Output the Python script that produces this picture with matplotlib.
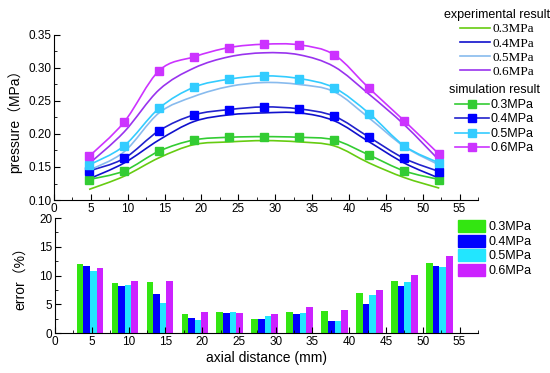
import matplotlib.pyplot as plt
import numpy as np
from matplotlib.path import Path
from matplotlib.patches import PathPatch, Patch
from matplotlib.lines import Line2D
from matplotlib.ticker import MultipleLocator

plt.rcParams['font.family'] = ['Liberation Sans', 'Noto Sans CJK SC', 'DejaVu Sans']

# axial positions (mm)
x = [4.75, 9.5, 14.25, 19, 23.75, 28.5, 33.25, 38, 42.75, 47.5, 52.25]
labels = ['0.3MPa', '0.4MPa', '0.5MPa', '0.6MPa']

# experimental result (MPa)
exp_03 = [0.116, 0.136, 0.164, 0.184, 0.188, 0.190, 0.188, 0.182, 0.156, 0.134, 0.118]
exp_04 = [0.132, 0.156, 0.191, 0.219, 0.229, 0.232, 0.232, 0.220, 0.188, 0.156, 0.133]
exp_05 = [0.145, 0.173, 0.232, 0.257, 0.272, 0.278, 0.275, 0.264, 0.224, 0.181, 0.153]
exp_06 = [0.155, 0.203, 0.267, 0.300, 0.317, 0.323, 0.320, 0.302, 0.260, 0.214, 0.160]

# simulation result (MPa)
sim_03 = [0.131, 0.144, 0.174, 0.191, 0.195, 0.196, 0.195, 0.191, 0.168, 0.144, 0.131]
sim_04 = [0.144, 0.163, 0.205, 0.229, 0.237, 0.241, 0.238, 0.227, 0.195, 0.163, 0.143]
sim_05 = [0.153, 0.182, 0.239, 0.271, 0.283, 0.288, 0.284, 0.270, 0.231, 0.182, 0.156]
sim_06 = [0.166, 0.218, 0.296, 0.317, 0.331, 0.336, 0.335, 0.320, 0.269, 0.220, 0.169]

# error (%)
err_03 = [11.95, 8.7, 8.9, 3.3, 3.6, 2.45, 3.7, 3.8, 7.0, 9.0, 12.2]
err_04 = [11.65, 8.2, 6.8, 2.6, 3.5, 2.45, 3.3, 2.05, 5.1, 8.1, 11.7]
err_05 = [10.7, 8.3, 5.25, 2.2, 3.7, 2.9, 3.55, 2.15, 6.6, 8.8, 11.4]
err_06 = [11.3, 9.0, 9.1, 3.7, 3.5, 3.3, 4.5, 4.0, 7.5, 10.1, 13.4]

exp_colors = ['#66cc11', '#1010cc', '#88bbee', '#9933ee']
sim_colors = ['#33cc33', '#0000ff', '#33ccff', '#cc33ff']
bar_colors = ['#33e611', '#0000ff', '#22e6ff', '#cc22ff']


def smooth(ax, xs, ys, color, lw=1.2):
    # Catmull-Rom curve through the points, drawn as a bezier path
    pts = np.column_stack([xs, ys])
    verts = [pts[0]]
    codes = [Path.MOVETO]
    for i in range(len(pts) - 1):
        p0 = pts[max(i - 1, 0)]
        p1 = pts[i]
        p2 = pts[i + 1]
        p3 = pts[min(i + 2, len(pts) - 1)]
        verts += [p1 + (p2 - p0) / 6, p2 - (p3 - p1) / 6, p2]
        codes += [Path.CURVE4] * 3
    ax.add_patch(PathPatch(Path(verts, codes), fill=False, edgecolor=color, lw=lw))


fig = plt.figure(figsize=(5.5, 3.73), dpi=100)
ax1 = fig.add_axes([0.0982, 0.4638, 0.7709, 0.4424])
ax2 = fig.add_axes([0.1, 0.1072, 0.769, 0.3083])

exp_all = [exp_03, exp_04, exp_05, exp_06]
sim_all = [sim_03, sim_04, sim_05, sim_06]
for i in range(4):
    smooth(ax1, x, exp_all[i], exp_colors[i])
    smooth(ax1, x, sim_all[i], sim_colors[i] if i != 1 else '#2222cc')
    ax1.plot(x, sim_all[i], 's', color=sim_colors[i], ms=5.5, zorder=3)

ax1.set_xlim(0, 57.5)
ax1.set_ylim(0.10, 0.35)
ax1.set_ylabel('pressure（MPa）', fontsize=10, labelpad=4)

err_all = [err_03, err_04, err_05, err_06]
w = 0.9
xa = np.array(x)
for i in range(4):
    ax2.bar(xa + (i - 1.5) * w, err_all[i], width=w, color=bar_colors[i], lw=0)

ax2.set_xlim(0, 57.5)
ax2.set_ylim(0, 20)
ax2.set_ylabel('error（%）', fontsize=10, labelpad=8)
ax2.set_xlabel('axial distance (mm)', fontsize=10, labelpad=2)

for ax, ymaj, ymin in [(ax1, 0.05, 0.025), (ax2, 5, 2.5)]:
    ax.spines['top'].set_visible(False)
    ax.spines['right'].set_visible(False)
    ax.xaxis.set_major_locator(MultipleLocator(5))
    ax.xaxis.set_minor_locator(MultipleLocator(2.5))
    ax.yaxis.set_major_locator(MultipleLocator(ymaj))
    ax.yaxis.set_minor_locator(MultipleLocator(ymin))
    ax.tick_params(which='both', direction='in', labelsize=8.5, pad=2)
    ax.tick_params(which='major', length=4)
    ax.tick_params(which='minor', length=2)
ax1.yaxis.set_major_formatter(plt.FormatStrFormatter('%.2f'))

# legends
exp_handles = [Line2D([], [], color=c, lw=1.2) for c in exp_colors]
leg1 = fig.legend(exp_handles, labels, title='experimental result', loc='upper left',
                  bbox_to_anchor=(0.79, 1.0), frameon=False, fontsize=9.5, title_fontsize=9,
                  handlelength=2.3, handletextpad=0.15, labelspacing=0.15, borderpad=0.2)
for t in leg1.get_texts():
    t.set_fontfamily('Liberation Serif')

sim_handles = [Line2D([], [], color=sim_colors[i] if i != 1 else '#2222cc', lw=1.2,
                      marker='s', ms=5.5, mfc=sim_colors[i], mec=sim_colors[i])
               for i in range(4)]
leg2 = fig.legend(sim_handles, labels, title='simulation result', loc='upper left',
                  bbox_to_anchor=(0.80, 0.797), frameon=False, fontsize=9, title_fontsize=9,
                  handlelength=2.7, handletextpad=0.15, labelspacing=0.2, borderpad=0.2)

bar_handles = [Patch(color=c) for c in bar_colors]
fig.legend(bar_handles, labels, loc='upper left', bbox_to_anchor=(0.817, 0.433),
           frameon=False, fontsize=9, handlelength=2.15, handleheight=1.1,
           handletextpad=0.3, labelspacing=0.1, borderpad=0.2)

fig.savefig('out.png', dpi=100)
